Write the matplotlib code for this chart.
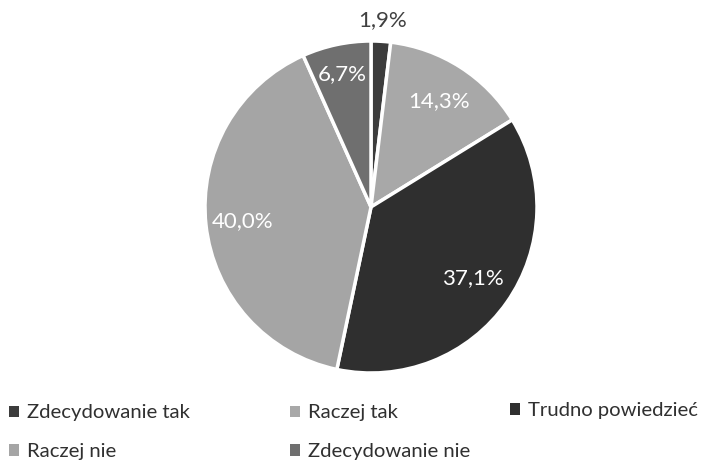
import numpy as np
import matplotlib.pyplot as plt
from matplotlib.patches import Patch

plt.rcParams['font.family'] = ['Lato', 'DejaVu Sans']

labels = ['Zdecydowanie tak', 'Raczej tak', 'Trudno powiedzieć', 'Raczej nie', 'Zdecydowanie nie']
values = [1.9, 14.3, 37.1, 40.0, 6.7]
pct_text = ['1,9%', '14,3%', '37,1%', '40,0%', '6,7%']
colors = ['#3c3c3c', '#a8a8a8', '#2f2f2f', '#a5a5a5', '#6f6f6f']
text_colors = ['#404040', 'white', 'white', 'white', 'white']

fig = plt.figure(figsize=(7.1, 4.63), dpi=100)
r_px = 166
cx, cy = 371, 207
ax = fig.add_axes([(cx - r_px) / 710, 1 - (cy + r_px) / 463, 2 * r_px / 710, 2 * r_px / 463])

wedges, _ = ax.pie(values, colors=colors, startangle=90, counterclock=False,
                   wedgeprops=dict(edgecolor='white', linewidth=2.5), radius=1)
ax.set_xlim(-1, 1)
ax.set_ylim(-1, 1)
ax.set_aspect('equal')

# label distances from centre (fraction of radius)
dist = [1.13, 0.76, 0.75, 0.78, 0.82]
for w, t, d, c in zip(wedges, pct_text, dist, text_colors):
    ang = np.deg2rad((w.theta1 + w.theta2) / 2)
    ax.text(d * np.cos(ang), d * np.sin(ang), t, ha='center', va='center',
            fontsize=16, color=c, clip_on=False)

# legend entries placed like the original
pos = [(0.012, 0.108), (0.408, 0.108), (0.718, 0.113), (0.012, 0.024), (0.408, 0.024)]
for lab, col, (x, y) in zip(labels, colors, pos):
    fig.legend(handles=[Patch(facecolor=col, edgecolor='none', label=lab)],
               loc='center left', bbox_to_anchor=(x, y), frameon=False,
               handlelength=0.5, handleheight=0.5, handletextpad=0.4,
               fontsize=14.6, labelcolor='#303030', borderpad=0, borderaxespad=0)

fig.savefig('out.png', dpi=100)
